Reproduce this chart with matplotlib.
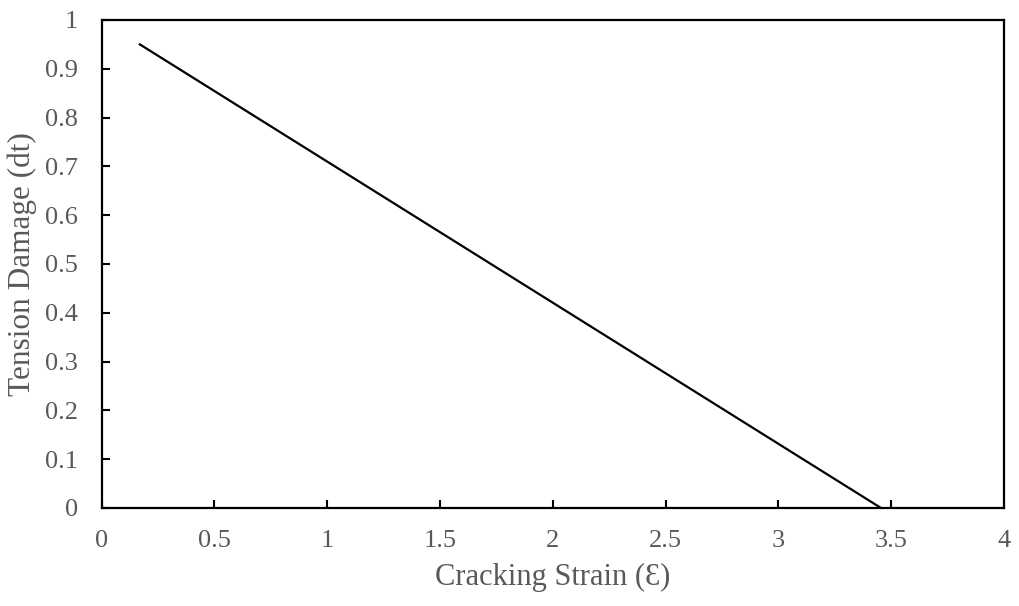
import matplotlib

matplotlib.use("Agg")
import matplotlib.pyplot as plt  # noqa: E402

# values
strain = [0.17, 3.455]
damage = [0.95, 0.0]

x_ticks = [0, 0.5, 1, 1.5, 2, 2.5, 3, 3.5, 4]
x_labels = ["0", "0.5", "1", "1.5", "2", "2.5", "3", "3.5", "4"]
y_ticks = [0, 0.1, 0.2, 0.3, 0.4, 0.5, 0.6, 0.7, 0.8, 0.9, 1]
y_labels = ["0", "0.1", "0.2", "0.3", "0.4", "0.5", "0.6", "0.7", "0.8", "0.9", "1"]

plt.rcParams["font.family"] = ["Liberation Serif", "DejaVu Serif"]
grey = "#595959"

fig = plt.figure(figsize=(10.19, 6.06), dpi=100)
ax = fig.add_axes([101.5 / 1019, 1 - 508 / 606, (1004 - 101.5) / 1019, (508 - 20) / 606])

ax.plot(strain, damage, color="black", lw=1.6)

ax.set_xlim(0, 4)
ax.set_ylim(0, 1)
ax.set_xticks(x_ticks)
ax.set_xticklabels(x_labels)
ax.set_yticks(y_ticks)
ax.set_yticklabels(y_labels)
ax.tick_params(direction="in", length=5.5, width=1.5, colors="black",
               labelcolor=grey, labelsize=19, pad=16)
ax.tick_params(axis="y", pad=17)
for s in ax.spines.values():
    s.set_linewidth(1.6)

ax.set_xlabel("Cracking Strain (Ɛ)", fontsize=22, color=grey, labelpad=8)
ax.set_ylabel("Tension Damage (dt)", fontsize=22.5, color=grey, labelpad=6)

fig.savefig("out.png", dpi=100, facecolor="white")
